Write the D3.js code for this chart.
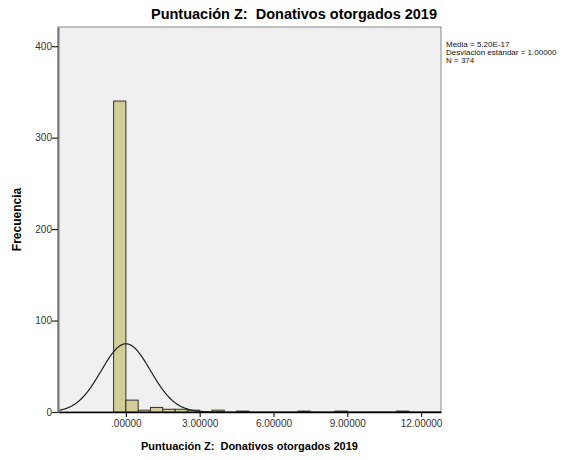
<!DOCTYPE html>
<html>
<head>
<meta charset="utf-8">
<script src="https://cdn.jsdelivr.net/npm/d3@7"></script>
<style>
  body { margin: 0; background: #fff; }
  text { font-family: Arial, "Liberation Sans", sans-serif; white-space: pre; }
</style>
</head>
<body>
<div id="chart"></div>
<script>
// histogram bins (z-score lower edge, width 0.5) and their counts
var binStarts = [-0.5, 0, 0.5, 1, 1.5, 2, 2.5, 3.5, 4.5, 7, 8.5, 11];
var binCounts = [340, 13, 2, 5, 3, 3, 2, 2, 1, 1, 1, 1];
var binWidth = 0.5;
var xTicks = [0, 3, 6, 9, 12];
var yTicks = [0, 100, 200, 300, 400];
var stats = { mean: 0, sd: 1, n: 374 };
var legendLines = ["Media = 5.20E-17", "Desviación estándar = 1.00000", "N = 374"];
var titleText = "Puntuación Z:  Donativos otorgados 2019";

var W = 580, H = 460,
    plot = { left: 58, right: 441, top: 27, bottom: 412 };

var svg = d3.select("#chart").append("svg")
    .attr("width", W)
    .attr("height", H);

var x = d3.scaleLinear().domain([-2.76, 12.81]).range([plot.left, plot.right]);
var y = d3.scaleLinear().domain([0, 421]).range([plot.bottom, plot.top]);

// plot background
svg.append("rect")
    .attr("x", plot.left).attr("y", plot.top)
    .attr("width", plot.right - plot.left).attr("height", plot.bottom - plot.top)
    .attr("fill", "#f0f0f0")
    .attr("stroke", "#888").attr("stroke-width", 1);

var bins = binStarts.map(function(s, i) { return { x0: s, x1: s + binWidth, n: binCounts[i] }; });

svg.append("g").selectAll("rect")
    .data(bins)
    .enter()
    .append("rect")
    .attr("x", function(d) { return x(d.x0); })
    .attr("y", function(d) { return y(d.n); })
    .attr("width", function(d) { return x(d.x1) - x(d.x0); })
    .attr("height", function(d) { return y(0) - y(d.n); })
    .attr("fill", "#d3ce97")
    .attr("stroke", "#333")
    .attr("stroke-width", 1);

// normal curve scaled to counts
var curvePts = d3.range(-2.76, 12.81, 0.02).map(function(v) {
    var z = (v - stats.mean) / stats.sd;
    return [v, stats.n * binWidth / (stats.sd * Math.sqrt(2 * Math.PI)) * Math.exp(-0.5 * z * z)];
});
svg.append("path")
    .datum(curvePts)
    .attr("fill", "none")
    .attr("stroke", "#222")
    .attr("stroke-width", 1.2)
    .attr("d", d3.line()
        .x(function(d) { return x(d[0]); })
        .y(function(d) { return y(d[1]); }));

// axes
var fmt = function(v) { return v === 0 ? ".00000" : d3.format(".5f")(v); };
var xAxis = svg.append("g")
    .attr("transform", "translate(0," + plot.bottom + ")")
    .call(d3.axisBottom(x).tickValues(xTicks).tickFormat(fmt).tickSize(5).tickSizeOuter(0));
var yAxis = svg.append("g")
    .attr("transform", "translate(" + plot.left + ",0)")
    .call(d3.axisLeft(y).tickValues(yTicks).tickSize(6).tickSizeOuter(0));

xAxis.select(".domain").attr("stroke", "#000").attr("stroke-width", 1.5);
yAxis.select(".domain").attr("stroke", "#777").attr("stroke-width", 2);
svg.selectAll(".tick line").attr("stroke", "#222").attr("stroke-width", 1.2);
svg.selectAll(".tick text")
    .attr("fill", "#333")
    .style("font-size", "10px")
    .style("font-family", "Arial, 'Liberation Sans', sans-serif");
yAxis.selectAll(".tick text").attr("x", -6);

// titles
svg.append("text")
    .attr("x", 294).attr("y", 19)
    .attr("text-anchor", "middle")
    .style("font-size", "14.5px").style("font-weight", "bold")
    .text(titleText);

svg.append("text")
    .attr("x", (plot.left + plot.right) / 2).attr("y", 450)
    .attr("text-anchor", "middle")
    .style("font-size", "11px").style("font-weight", "bold")
    .text(titleText);

svg.append("text")
    .attr("transform", "translate(21," + ((plot.top + plot.bottom) / 2) + ") rotate(-90)")
    .attr("text-anchor", "middle")
    .style("font-size", "12px").style("font-weight", "bold")
    .text("Frecuencia");

// legend
svg.append("g").selectAll("text")
    .data(legendLines)
    .enter()
    .append("text")
    .attr("x", 446)
    .attr("y", function(d, i) { return 47 + i * 8; })
    .style("font-size", "8px")
    .attr("fill", "#111")
    .text(function(d) { return d; });
</script>
</body>
</html>
